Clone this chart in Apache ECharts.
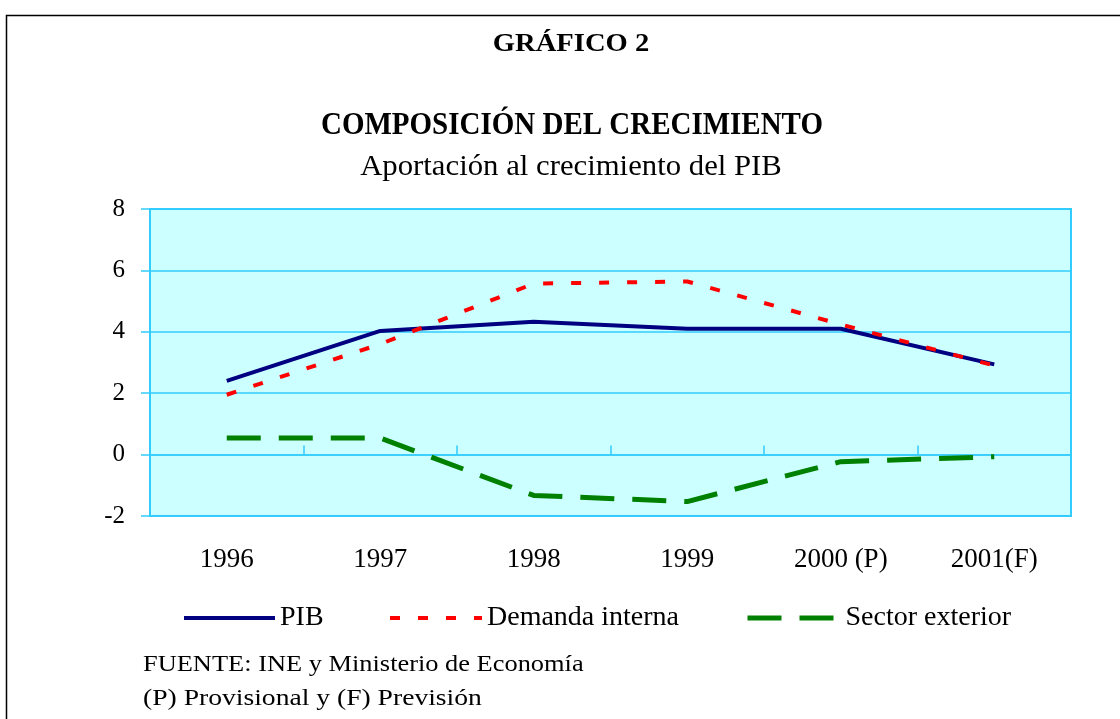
<!DOCTYPE html>
<html>
<head>
<meta charset="utf-8">
<script src="https://cdn.jsdelivr.net/npm/echarts@6/dist/echarts.min.js"></script>
<style>
  html, body { margin: 0; padding: 0; background: #fff; }
  #main { width: 1120px; height: 719px; }
</style>
</head>
<body>
<div id="main"></div>
<script>
// data
var years = ['1996', '1997', '1998', '1999', '2000 (P)', '2001(F)'];
var pib = [2.4, 4.03, 4.33, 4.1, 4.1, 2.94];
var demandaInterna = [1.95, 3.6, 5.57, 5.64, 4.24, 2.9];
var sectorExterior = [0.54, 0.54, -1.33, -1.53, -0.23, -0.07];
var yTicks = { min: -2, max: 8, interval: 2 };

var serif = '"Liberation Serif", "DejaVu Serif", serif';
var blue = '#33CCFF';

// text block helper (the scanned original stretches some lines a little)
function label(text, x, y, size, weight, align, sx) {
  return {
    type: 'text', x: x, y: y, scaleX: sx || 1, silent: true,
    style: {
      text: text, fill: '#000', fontFamily: serif, fontSize: size, fontWeight: weight,
      align: align, verticalAlign: 'middle'
    }
  };
}

function legendBox(name, left, width, pad) {
  return {
    data: [name], left: left, top: 604, padding: 0,
    itemWidth: width, itemHeight: 10,
    itemStyle: { opacity: 0 },
    lineStyle: { width: 'inherit' },
    textStyle: { fontFamily: serif, fontSize: 28, color: '#000', padding: [0, 0, 0, pad || 0] }
  };
}

var chart = echarts.init(document.getElementById('main'));

chart.setOption({
  animation: false,
  textStyle: { fontFamily: serif, color: '#000' },
  graphic: [
    {
      type: 'rect', left: 4, top: 13, silent: true,
      shape: { width: 1130, height: 720 },
      style: { fill: 'none', stroke: '#000', lineWidth: 1.5 }
    },
    label('GRÁFICO 2', 571, 44, 26, 'bold', 'center', 1.1),
    label('COMPOSICIÓN DEL CRECIMIENTO', 572, 126, 31, 'bold', 'center', 0.935),
    label('Aportación al crecimiento del PIB', 571, 167, 29, 'normal', 'center', 1.06),
    label('FUENTE: INE y Ministerio de Economía', 143, 665, 24, 'normal', 'left', 1.1),
    label('(P) Provisional y (F) Previsión', 143, 699, 24, 'normal', 'left', 1.15)
  ],
  legend: [
    legendBox('PIB', 182, 91),
    legendBox('Demanda interna', 388, 92),
    legendBox('Sector exterior', 745, 86, 7)
  ],
  grid: {
    left: 150, right: 49, top: 209, bottom: 203,
    show: true, backgroundColor: '#CCFFFF', borderColor: blue, borderWidth: 2
  },
  xAxis: [
    {
      type: 'category', data: years, position: 'bottom',
      axisLine: { show: false, onZero: false },
      axisTick: { show: false },
      axisLabel: { fontFamily: serif, fontSize: 27, color: '#000', margin: 30 }
    },
    {
      type: 'category', data: years,
      axisLine: { show: true, onZero: true, lineStyle: { color: blue, width: 1.5 } },
      axisTick: { show: true, length: 9, lineStyle: { color: blue, width: 1.5 } },
      axisLabel: { show: false }
    }
  ],
  yAxis: {
    type: 'value', min: yTicks.min, max: yTicks.max, interval: yTicks.interval,
    axisLine: { show: false },
    axisTick: { show: true, length: 9, lineStyle: { color: blue, width: 1.5 } },
    axisLabel: { fontFamily: serif, fontSize: 25, color: '#000', margin: 25 },
    splitLine: { show: true, lineStyle: { color: blue, width: 1.5 } }
  },
  series: [
    {
      name: 'PIB', type: 'line', data: pib, symbol: 'none',
      lineStyle: { color: '#000080', width: 4 }, itemStyle: { color: '#000080' }
    },
    {
      name: 'Demanda interna', type: 'line', data: demandaInterna, symbol: 'none',
      lineStyle: { color: '#FF0000', width: 4, type: [10, 18] }, itemStyle: { color: '#FF0000' }
    },
    {
      name: 'Sector exterior', type: 'line', data: sectorExterior, symbol: 'none',
      lineStyle: { color: '#008000', width: 5, type: [34, 18] }, itemStyle: { color: '#008000' }
    }
  ]
});
</script>
</body>
</html>
